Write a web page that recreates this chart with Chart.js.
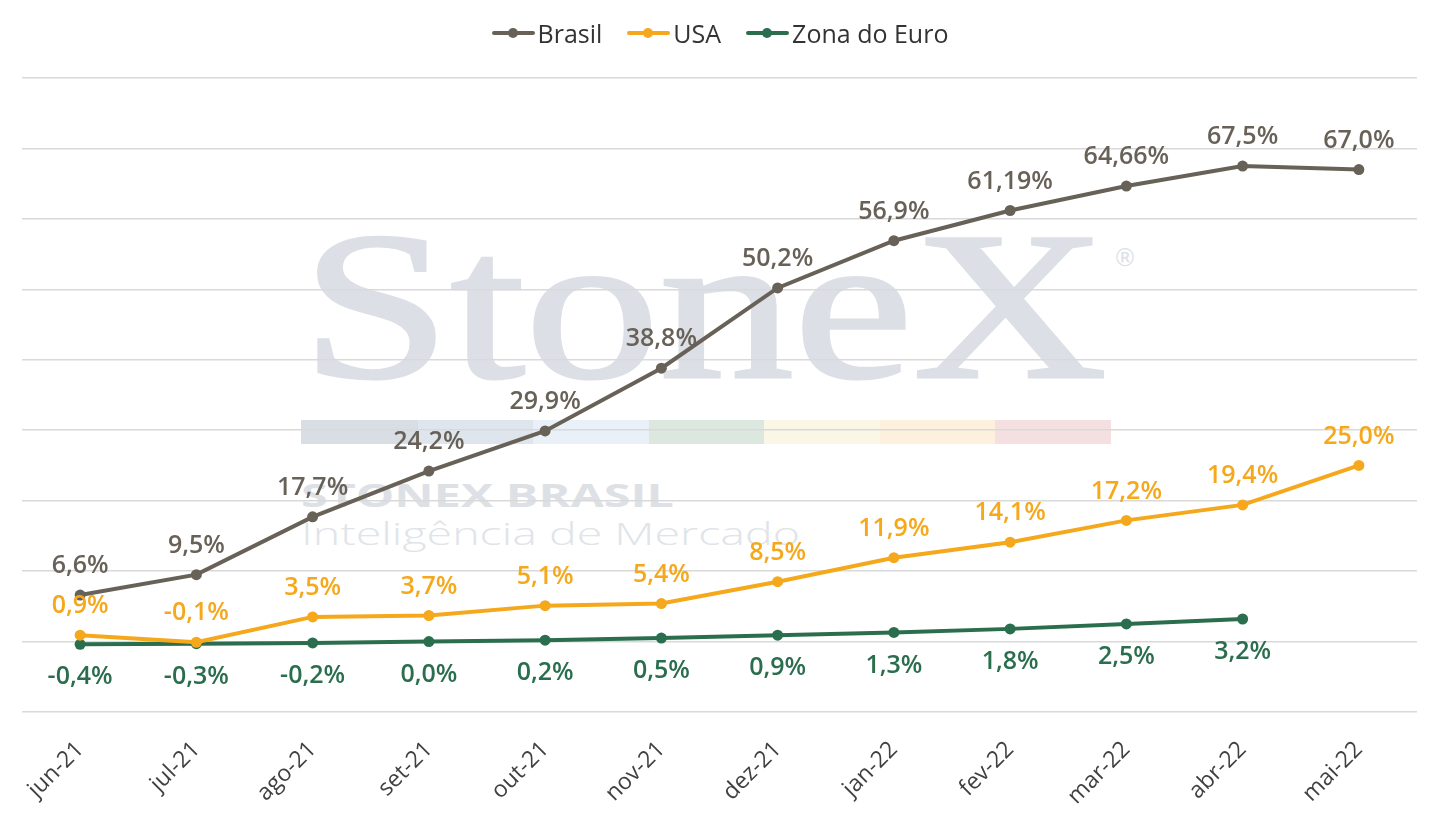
<!DOCTYPE html>
<html lang="pt-BR">
<head>
<meta charset="utf-8">
<title>Inflação acumulada</title>
<script src="https://cdn.jsdelivr.net/npm/chart.js@4.4.1/dist/chart.umd.min.js"></script>
<style>
  html, body { margin: 0; padding: 0; background: #fff; }
  #wrap { position: relative; width: 1440px; height: 826px; overflow: hidden; }
  #marca { position: absolute; left: 0; top: 0; }
  #grafico { position: absolute; left: 0; top: 0; }
  #legenda {
    position: absolute; left: 0; top: 16px; width: 1440px;
    display: flex; justify-content: center; gap: 25px;
    font-family: "Open Sans", sans-serif; font-size: 25px; color: #333;
  }
  .item { display: flex; align-items: center; height: 34px; }
  .marcador { position: relative; width: 43px; height: 12px; margin-right: 3px; }
  .marcador .traco { position: absolute; left: 0; right: 0; top: 4px; height: 4px; border-radius: 2px; }
  .marcador .ponto { position: absolute; left: 16px; top: 1px; width: 10px; height: 10px; border-radius: 50%; }
</style>
</head>
<body>
<div id="wrap">
  <!-- marca d'água atrás do gráfico -->
  <svg id="marca" width="1440" height="826">
    <text x="301" y="377" font-family="Liberation Serif, serif" font-size="211" fill="#dce0e6" stroke="#dce0e6" stroke-width="3" textLength="806" lengthAdjust="spacingAndGlyphs">StoneX</text>
    <text x="1113" y="266" font-family="DejaVu Sans, sans-serif" font-size="24" fill="#dce0e6">®</text>
    <rect x="301" y="420" width="117" height="24" fill="#d9dde4"/>
    <rect x="418" y="420" width="115" height="24" fill="#dfe5ed"/>
    <rect x="533" y="420" width="116" height="24" fill="#e9f0f8"/>
    <rect x="649" y="420" width="115" height="24" fill="#dce7df"/>
    <rect x="764" y="420" width="116" height="24" fill="#fbf7e6"/>
    <rect x="880" y="420" width="115" height="24" fill="#fdf1de"/>
    <rect x="995" y="420" width="116" height="24" fill="#f4e0e1"/>
    <text x="301" y="507" font-family="Open Sans, sans-serif" font-weight="700" font-size="33" fill="#dde1e6" textLength="373" lengthAdjust="spacingAndGlyphs">STONEX BRASIL</text>
    <text x="301" y="545" font-family="Open Sans, sans-serif" font-weight="300" font-size="31" fill="#e0e4e9" textLength="499" lengthAdjust="spacingAndGlyphs">Inteligência de Mercado</text>
  </svg>
  <canvas id="grafico" width="1440" height="826"></canvas>
  <div id="legenda"></div>
</div>
<script>
// Meses (eixo X)
const meses = ['jun-21', 'jul-21', 'ago-21', 'set-21', 'out-21', 'nov-21',
               'dez-21', 'jan-22', 'fev-22', 'mar-22', 'abr-22', 'mai-22'];

// Valores em %
const brasil = [6.6, 9.5, 17.7, 24.2, 29.9, 38.8, 50.2, 56.9, 61.19, 64.66, 67.5, 67.0];
const usa = [0.9, -0.1, 3.5, 3.7, 5.1, 5.4, 8.5, 11.9, 14.1, 17.2, 19.4, 25.0];
const zonaEuro = [-0.4, -0.3, -0.2, 0.0, 0.2, 0.5, 0.9, 1.3, 1.8, 2.5, 3.2, null];

// Escala Y (sem rótulos, só as linhas de grade)
const yMin = -10;
const yMax = 80;
const yPasso = 10;

const corBrasil = '#686158';
const corUsa = '#f5a81c';
const corEuro = '#2a6e4e';

// Formata no padrão brasileiro mantendo as casas do original (mín. 1)
const formatar = (v) => {
    const casas = Math.max(1, (String(v).split('.')[1] || '').length);
    return v.toFixed(casas).replace('.', ',') + '%';
};

const series = [
    { label: 'Brasil', data: brasil, cor: corBrasil, rotulo: 'acima' },
    { label: 'USA', data: usa, cor: corUsa, rotulo: 'acima' },
    { label: 'Zona do Euro', data: zonaEuro, cor: corEuro, rotulo: 'abaixo' }
];

// Legenda em HTML (linha com marcador)
const legenda = document.getElementById('legenda');
series.forEach(s => {
    legenda.innerHTML += `
        <div class="item">
            <div class="marcador">
                <div class="traco" style="background:${s.cor}"></div>
                <div class="ponto" style="background:${s.cor}"></div>
            </div>
            <span>${s.label}</span>
        </div>`;
});

// Plugin simples para os rótulos de dados
const rotulosPlugin = {
    id: 'rotulos',
    afterDatasetsDraw(chart) {
        const ctx = chart.ctx;
        ctx.save();
        ctx.font = '600 25px "Open Sans", sans-serif';
        ctx.textAlign = 'center';
        ctx.textBaseline = 'middle';
        chart.data.datasets.forEach((ds, i) => {
            const meta = chart.getDatasetMeta(i);
            ctx.fillStyle = ds.borderColor;
            meta.data.forEach((pt, j) => {
                const v = ds.data[j];
                if (v === null || v === undefined) return;
                const dy = ds.rotulo === 'abaixo' ? 33 : -29;
                ctx.fillText(formatar(v), pt.x, pt.y + dy);
            });
        });
        ctx.restore();
    }
};

const ctx = document.getElementById('grafico').getContext('2d');
new Chart(ctx, {
    type: 'line',
    data: {
        labels: meses,
        datasets: series.map(s => ({
            label: s.label,
            data: s.data,
            rotulo: s.rotulo,
            borderColor: s.cor,
            backgroundColor: s.cor,
            borderWidth: 4,
            pointRadius: 5.5,
            pointHoverRadius: 5.5,
            pointBorderWidth: 0,
            tension: 0,
            fill: false
        }))
    },
    options: {
        responsive: false,
        animation: false,
        layout: { padding: { top: 78, left: 22, right: 23, bottom: 0 } },
        plugins: {
            legend: { display: false },
            tooltip: { enabled: false }
        },
        scales: {
            x: {
                offset: true,
                grid: { display: false },
                border: { display: false },
                ticks: {
                    color: '#404040',
                    font: { family: '"Open Sans", sans-serif', size: 23 },
                    minRotation: 45,
                    maxRotation: 45,
                    padding: 16
                },
                afterFit: (scale) => { scale.height = 114; }
            },
            y: {
                min: yMin,
                max: yMax,
                ticks: { display: false, stepSize: yPasso },
                grid: { color: '#d9d9d9', lineWidth: 1.5, drawTicks: false },
                border: { display: false }
            }
        }
    },
    plugins: [rotulosPlugin]
});
</script>
</body>
</html>
